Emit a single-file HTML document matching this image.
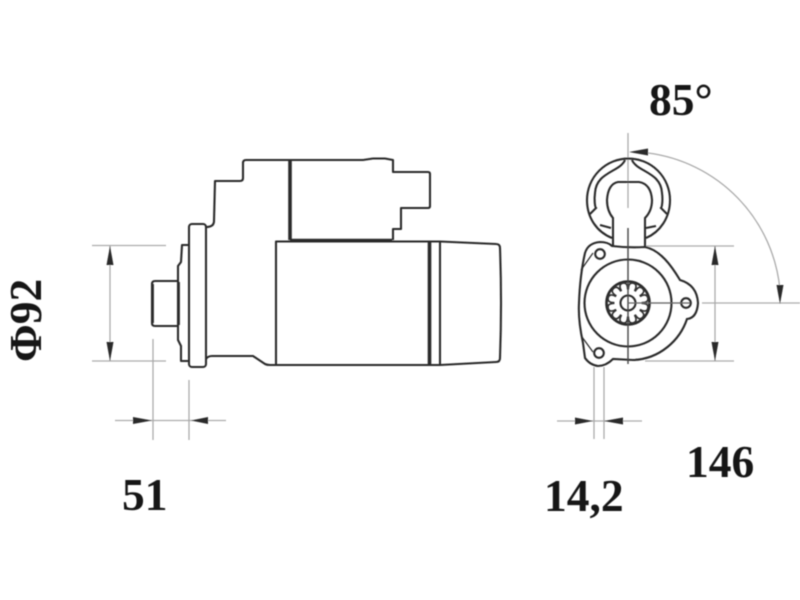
<!DOCTYPE html>
<html>
<head>
<meta charset="utf-8">
<style>
html,body{margin:0;padding:0;background:#fff}
svg{display:block}
text{font-family:"Liberation Serif",serif;font-weight:bold;fill:#181818;font-size:45.5px}
</style>
</head>
<body>
<svg width="800" height="600" viewBox="0 0 800 600" xmlns="http://www.w3.org/2000/svg">
<defs>
<filter id="b" x="-5%" y="-5%" width="110%" height="110%"><feGaussianBlur stdDeviation="0.5"/></filter>
<path id="t" d="M-3.2,-13.2 Q-5,-20.5 0,-20.5 Q5,-20.5 3.2,-13.2" fill="none" stroke="#333" stroke-width="1.7"/>
</defs>
<rect width="800" height="600" fill="#fff"/>
<g filter="url(#b)">
<!-- dimension lines -->
<g fill="none" stroke="#aaa" stroke-width="1.3">
<path d="M92,245.5H166M92,361H166M110,246V361"/>
<path d="M153,339V440M189,380V440M115,420.5H226"/>
<path d="M645,246H734M645,361H734M715,246V361"/>
<path d="M702,303H800M650,303H690"/>
<path d="M594,367V439M604,367V439M557,421H642"/>
<path d="M628,133V208"/>
<path d="M648,153A152,152 0 0 1 780,290"/>
</g>
<g fill="#2a2a2a" stroke="none">
<path d="M110,246L113.5,265H106.5Z"/>
<path d="M110,361L113.5,342H106.5Z"/>
<path d="M152,420.5L133,417V424Z"/>
<path d="M191,420.5L208,417V424Z"/>
<path d="M715,246L718.5,265H711.5Z"/>
<path d="M715,361L718.5,342H711.5Z"/>
<path d="M593,421L575,417.5V424.5Z"/>
<path d="M604,421L623,417.5V424.5Z"/>
<path d="M629,152L648,148.5V155.5Z"/>
<path d="M780,304L776.5,285H783.5Z"/>
</g>
<!-- side view -->
<g fill="none" stroke="#2a2a2a" stroke-width="2.1" stroke-linejoin="round">
<path d="M206,227Q214,227 214,221L215,181H240Q243,181 243,178V163Q243,160 246,160H363L373,158.5H385L393,160V172H428Q430,172 430,174V206Q430,208 428,208H401V229H393V240"/>
<rect x="189" y="224" width="17" height="143" rx="3"/>
<path d="M189,245H182L181,262L178,266V340L181,346V361H189"/>
<path d="M178,281H155Q152,281 152,284V323Q152,326 155,326H178"/>
<path d="M206,359Q208,356 212,356H253L265,364Q267,365 270,365H276"/>
<path d="M276,241.5H440L496,244Q500,244 500,248Q502,303 500,358Q500,362 496,362L440,365H276Z"/>
<path d="M440,241.5V365"/>
</g>
<g stroke="#2a2a2a" fill="none" stroke-width="3.6">
<path d="M290,160V240"/>
<path d="M429.5,241.5V365"/>
<path d="M290,240H392" stroke-width="2.6"/>
<path d="M152.5,284V323" stroke-width="2.8"/>
<path d="M178.5,282V325" stroke-width="2.8"/>
</g>
<!-- front view -->
<g fill="none" stroke="#2a2a2a" stroke-width="2.1">
<path d="M612,238C597,232 587,218 587,200A41.5,41.5 0 0 1 670,200C670,218 660,232 646,238"/>
<path d="M625,160C620,172 596,172 595,193C594,200 595,207 596,208L590,214"/>
<path d="M632,160C637,172 661,172 662,193C663,200 662,207 661,208L667,214"/>
<path d="M600,225L611,228M656,226L646,228"/>
<path d="M613,247V218Q607,211 607,200Q608,184 618,182H639Q651,184 652,200Q652,211 645,218V247"/>
<path d="M645,247C660,250 671,265 680,280Q697,285 698,303Q697,318 687,319C680,340 660,359 633,360L613,359Q606,366 598,366Q590,365 585,358L583,343Q578,320 579,303Q580,275 585,253Q588,243 600,242Q608,242 612,246Q628,248 645,247Z"/>
<circle cx="628" cy="303" r="43.5"/>
<circle cx="628" cy="303" r="21.5" stroke-width="2.6"/>
<circle cx="628" cy="303" r="7.5"/>
<circle cx="600" cy="254" r="4.8"/>
<circle cx="686" cy="303" r="4.8"/>
<circle cx="599" cy="353" r="4.8"/>
<path d="M581,270L593,253M582,337L593,352" stroke-width="1.2"/>
</g>
<g>
<use href="#t" transform="translate(628,303) rotate(15)"/>
<use href="#t" transform="translate(628,303) rotate(45)"/>
<use href="#t" transform="translate(628,303) rotate(75)"/>
<use href="#t" transform="translate(628,303) rotate(105)"/>
<use href="#t" transform="translate(628,303) rotate(135)"/>
<use href="#t" transform="translate(628,303) rotate(165)"/>
<use href="#t" transform="translate(628,303) rotate(195)"/>
<use href="#t" transform="translate(628,303) rotate(225)"/>
<use href="#t" transform="translate(628,303) rotate(255)"/>
<use href="#t" transform="translate(628,303) rotate(285)"/>
<use href="#t" transform="translate(628,303) rotate(315)"/>
<use href="#t" transform="translate(628,303) rotate(345)"/>
</g>
<path d="M628,228V364" stroke="#444" stroke-width="1.4" fill="none"/>
<path d="M628,303H690" stroke="#666" stroke-width="1.2" fill="none"/>
<!-- labels -->
<text x="649" y="115">85°</text>
<text x="122" y="510">51</text>
<text x="544" y="511">14,2</text>
<text x="686" y="477">146</text>
<text transform="translate(41,362) rotate(-90)">Φ92</text>
</g>
</svg>
</body>
</html>
